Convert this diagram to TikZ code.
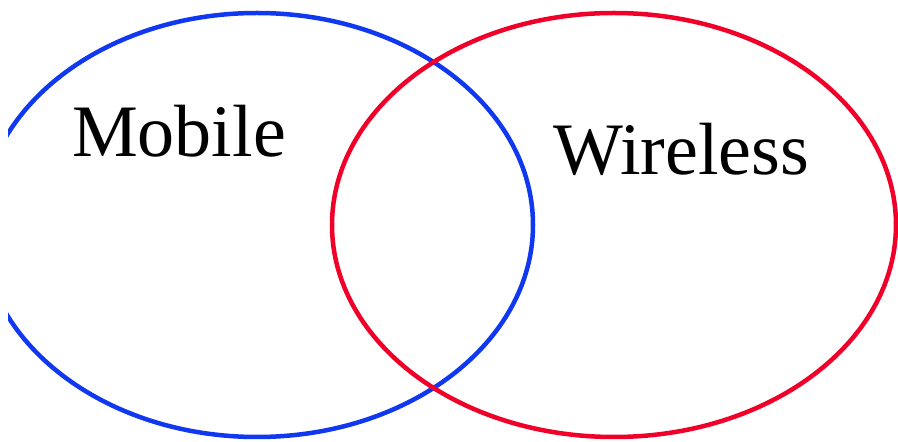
\documentclass[tikz,border=0pt]{standalone}
\usepackage{fontspec}
\setmainfont{Liberation Serif}
\definecolor{vblue}{RGB}{16,56,240}
\definecolor{vred}{RGB}{240,0,40}
\tikzset{
  setring/.style={line width=4.5pt},
  setlabel/.style={inner sep=0pt, anchor=base west, font=\fontsize{74}{82}\selectfont}
}
\begin{document}
\begin{tikzpicture}[x=1pt,y=1pt]
\useasboundingbox (0,0) rectangle (898,442);
\begin{scope}
\clip (8,0) rectangle (898,442);
\draw[setring, vblue] (257,217) ellipse [x radius=276, y radius=212];
\draw[setring, vred] (614,217) ellipse [x radius=282, y radius=212];
\end{scope}
\node[setlabel] (mobile) at (72,285) {Mobile};
\node[setlabel] (wireless) at (553,267) {Wireless};
\end{tikzpicture}
\end{document}
